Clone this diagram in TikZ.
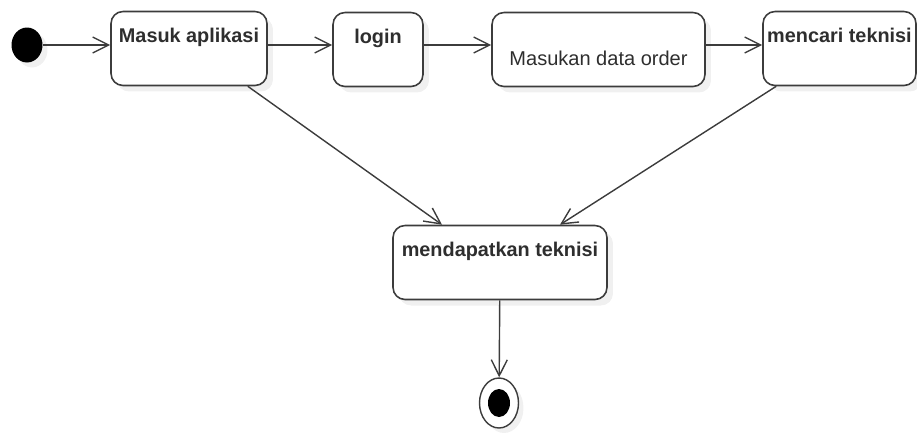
\documentclass[tikz,border=0pt]{standalone}
\usepackage{fontspec}
\setmainfont{Liberation Sans}
\usetikzlibrary{arrows.meta,shapes.geometric,shadows}
\definecolor{umlline}{HTML}{3C3C3C}
\definecolor{umltext}{HTML}{2E2E2E}

\begin{document}
\begin{tikzpicture}[x=0.02cm, y=-0.02cm,
  act/.style={rectangle, rounded corners=0.24cm, draw=umlline, line width=0.9pt, fill=white, text=umltext, inner xsep=0pt, inner ysep=0.25cm, drop shadow={shadow xshift=0.12cm, shadow yshift=-0.12cm, opacity=0.12}},
  acttop/.style={act, font=\fontsize{11.3}{13}\selectfont\bfseries, text height=0.37cm, text depth=0.61cm},
  actmid/.style={act, font=\fontsize{11.4}{13}\selectfont, text height=0.81cm, text depth=0.17cm},
  flow/.style={-{Straight Barb[length=0.32cm, width=0.32cm, line width=0.8pt]}, line width=0.8pt, color=umlline}]

\useasboundingbox (0,0) rectangle (917,434);

\node[ellipse, fill=black, minimum width=0.62cm, minimum height=0.7cm, inner sep=0pt, drop shadow={shadow xshift=0.1cm, shadow yshift=-0.1cm, opacity=0.12}] (start) at (27,45) {};

\node[acttop, minimum width=3.12cm] (masuk) at (189,48.5) {Masuk aplikasi};
\node[acttop, minimum width=1.8cm] (login) at (378,49.5) {login};
\node[actmid, minimum width=4.26cm] (order) at (598.5,49.5) {Masukan data order};
\node[acttop, minimum width=3.06cm] (cari) at (839.5,48.5) {mencari teknisi};
\node[acttop, minimum width=4.28cm] (dapat) at (500,262.5) {mendapatkan teknisi};

\node[ellipse, draw=umlline, line width=0.8pt, fill=white, minimum width=0.78cm, minimum height=1.0cm, inner sep=0pt, drop shadow={shadow xshift=0.1cm, shadow yshift=-0.1cm, opacity=0.12}] (stop) at (499,403) {};
\node[ellipse, fill=black, minimum width=0.44cm, minimum height=0.56cm, inner sep=0pt] (stopdot) at (stop.center) {};

\path[flow] (start) edge (start -| masuk.west);
\path[flow] (masuk.east |- start) edge (login.west |- start);
\path[flow] (login.east |- start) edge (order.west |- start);
\path[flow] (order.east |- start) edge (cari.west |- start);
\path[flow] ([xshift=-0.4cm]masuk.south east) edge ([xshift=-1.16cm]dapat.north);
\path[flow] ([xshift=0.28cm]cari.south west) edge ([xshift=1.2cm]dapat.north);
\path[flow] (dapat) edge (stop);

\end{tikzpicture}
\end{document}
